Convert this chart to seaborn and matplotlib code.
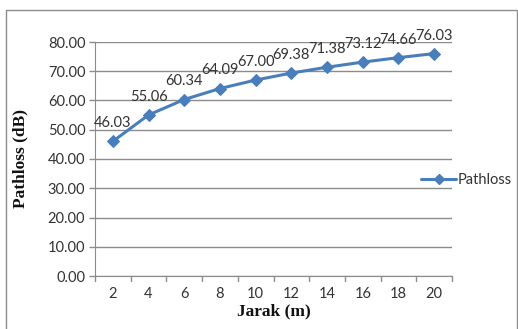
import matplotlib
matplotlib.use("Agg")
import matplotlib.pyplot as plt
import seaborn as sns
import pandas as pd
from matplotlib.patches import Rectangle
from matplotlib.lines import Line2D

# chart data
jarak = [2, 4, 6, 8, 10, 12, 14, 16, 18, 20]
pathloss = [46.03, 55.06, 60.34, 64.09, 67.00, 69.38, 71.38, 73.12, 74.66, 76.03]
yticks = [0, 10, 20, 30, 40, 50, 60, 70, 80]

df = pd.DataFrame({"pos": range(len(jarak)), "jarak": jarak, "pathloss": pathloss})

sns.set_style("white")
plt.rcParams['font.family'] = ['Lato', 'DejaVu Sans']

blue = "#4a7ebb"
grid = "#8c8c8c"
txt = "#333333"

fig = plt.figure(figsize=(5.18, 3.29), dpi=100)
ax = fig.add_axes([95 / 518, 1 - 276 / 329, (452 - 95) / 518, (276 - 42) / 329])

sns.lineplot(data=df, x="pos", y="pathloss", ax=ax, color=blue, linewidth=2.2,
             marker="D", markersize=6.5, markeredgecolor=blue, legend=False)

for i, v in enumerate(pathloss):
    ax.annotate(f"{v:.2f}", (i, v), xytext=(0, 8), textcoords="offset points",
                ha="center", va="bottom", fontsize=10.5, color=txt)

ax.set_xlim(-0.5, len(jarak) - 0.5)
ax.set_ylim(0, 80)
ax.set_yticks(yticks)
ax.set_yticklabels([f"{t:.2f}" for t in yticks], fontsize=10.5, color=txt)
ax.set_xticks(range(len(jarak)))
ax.set_xticklabels([str(j) for j in jarak], fontsize=10.5, color=txt)
ax.tick_params(axis="x", length=0, pad=8)
ax.tick_params(axis="y", length=4, color=grid, width=1, pad=3, left=True)

# excel style ticks between categories
for b in [x - 0.5 for x in range(len(jarak) + 1)]:
    ax.plot([b, b], [0, -1.8], color=grid, lw=1, clip_on=False)

ax.grid(axis="y", color=grid, linewidth=1)
ax.set_axisbelow(True)
for s in ["top", "right"]:
    ax.spines[s].set_visible(False)
ax.spines["left"].set_color(grid)
ax.spines["bottom"].set_color(grid)

ax.set_xlabel("Jarak (m)", fontsize=12.5, fontweight="bold", family="Liberation Serif",
              color="#111111", labelpad=2)
ax.set_ylabel("Pathloss (dB)", fontsize=12.5, fontweight="bold", family="Liberation Serif",
              color="#111111", labelpad=14)

handle = Line2D([], [], color=blue, lw=2.2, marker="D", markersize=5)
fig.legend([handle], ["Pathloss"], loc="center left", bbox_to_anchor=(421 / 518, 1 - 180 / 329),
           frameon=False, fontsize=10.5, handlelength=2.4, handletextpad=0.1,
           borderaxespad=0, borderpad=0, labelcolor=txt)

# outer chart border
fig.patches.append(Rectangle((6 / 518, -0.05), 511 / 518, 1.05 - 10 / 329,
                             transform=fig.transFigure, fill=False, edgecolor="#8c8c8c", lw=1))

fig.savefig("out.png", dpi=100)
